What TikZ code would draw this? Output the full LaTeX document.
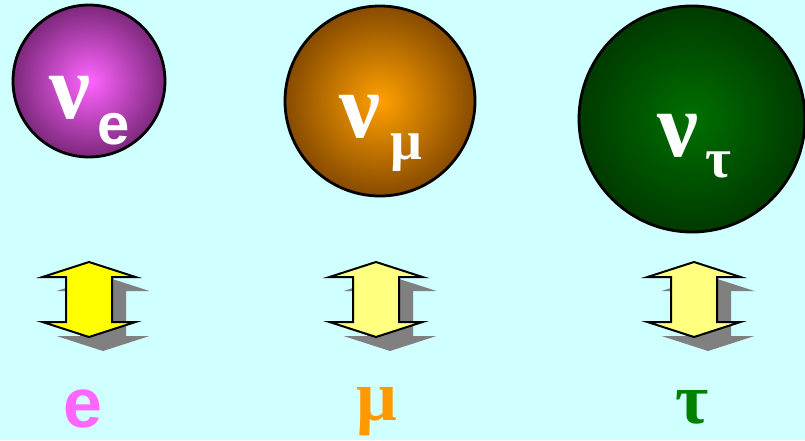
\documentclass[tikz,border=0pt]{standalone}
\usepackage{fontspec}
\setmainfont{Liberation Serif}
\setsansfont{Liberation Sans}
\definecolor{bgcyan}{RGB}{208,255,255}
\definecolor{pinkin}{RGB}{255,100,255}
\definecolor{pinkout}{RGB}{125,40,125}
\definecolor{orin}{RGB}{255,160,0}
\definecolor{orout}{RGB}{135,75,0}
\definecolor{grin}{RGB}{0,112,0}
\definecolor{grout}{RGB}{0,58,0}
\definecolor{labpink}{RGB}{255,102,255}
\definecolor{laborange}{RGB}{255,153,0}
\definecolor{labgreen}{RGB}{0,128,0}
\definecolor{yel1}{RGB}{255,255,0}
\definecolor{yel2}{RGB}{255,255,128}
\definecolor{shadowgray}{RGB}{128,128,128}
\tikzset{
  ball/.style={circle, draw=black, line width=2.8pt, inner sep=0pt},
  nutext/.style={inner sep=0pt, text=white, font=\fontsize{92}{92}\selectfont\bfseries},
  subtext/.style={inner sep=0pt, text=white, font=\fontsize{56}{56}\selectfont\bfseries},
  labtext/.style={inner sep=0pt, font=\fontsize{72}{72}\selectfont\bfseries},
  arrowshape/.style={draw=black, line width=2pt, line join=miter},
  arrowshadow/.style={fill=shadowgray, draw=none},
  pics/dblarrow/.style={code={
    \fill[arrowshadow] (14,14) -- ++(46.5,15) -- ++(-23.5,0) -- ++(0,45) -- ++(23.5,0)
      -- ++(-46.5,15) -- ++(-46.5,-15) -- ++(23.5,0) -- ++(0,-45) -- ++(-23.5,0) -- cycle;
    \filldraw[arrowshape, fill=#1] (0,0) -- ++(46.5,15) -- ++(-23.5,0) -- ++(0,45) -- ++(23.5,0)
      -- ++(-46.5,15) -- ++(-46.5,-15) -- ++(23.5,0) -- ++(0,-45) -- ++(-23.5,0) -- cycle;
  }}
}
\begin{document}
\begin{tikzpicture}[x=1pt,y=-1pt]
\fill[bgcyan] (0,0) rectangle (805,440);
\useasboundingbox (0,0) rectangle (805,440);

% balls
\node[ball, minimum size=152pt, inner color=pinkin, outer color=pinkout] (b1) at (89,81) {};
\node[ball, minimum size=190pt, inner color=orin, outer color=orout] (b2) at (380,101) {};
\node[ball, minimum size=226pt, inner color=grin, outer color=grout] (b3) at (692,119) {};

% neutrino symbols
\node[nutext] (nu1) at (70,98) {ν};
\node[subtext, font=\fontsize{58}{58}\selectfont\sffamily\bfseries] (s1) at (114,129) {e};
\node[nutext] (nu2) at (360,117) {ν};
\node[subtext] (s2) at (406,153) {μ};
\node[nutext] (nu3) at (678,136) {ν};
\node[subtext] (s3) at (718,165) {τ};

% arrows
\pic (a1) at (89,262) {dblarrow=yel1};
\pic (a2) at (376,262) {dblarrow=yel2};
\pic (a3) at (694,262) {dblarrow=yel2};

% lepton labels
\node[labtext, font=\fontsize{70}{70}\selectfont\sffamily\bfseries, text=labpink] (l1) at (83,409) {e};
\node[labtext, text=laborange] (l2) at (377,412) {μ};
\node[labtext, text=labgreen] (l3) at (692,407) {τ};
\end{tikzpicture}
\end{document}
